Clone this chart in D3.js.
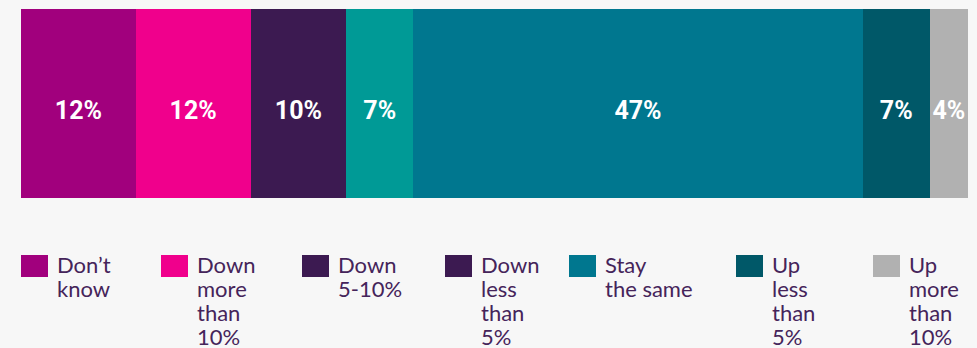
<!DOCTYPE html>
<html>
<head>
<meta charset="utf-8">
<script src="https://cdn.jsdelivr.net/npm/d3@7/dist/d3.min.js"></script>
<style>
  html, body { margin: 0; padding: 0; background: #f7f7f7; }
  svg { display: block; }
</style>
</head>
<body>
<svg id="chart" width="977" height="348"></svg>
<script>
// Expected change, share of respondents (%)
const categories = ["Don\u2019t know", "Down more than 10%", "Down 5-10%", "Down less than 5%", "Stay the same", "Up less than 5%", "Up more than 10%"];
const values = [12, 12, 10, 7, 47, 7, 4];
const valueLabels = ["12%", "12%", "10%", "7%", "47%", "7%", "4%"];
const legendLines = [
  ["Don\u2019t", "know"],
  ["Down", "more", "than", "10%"],
  ["Down", "5-10%"],
  ["Down", "less", "than", "5%"],
  ["Stay", "the same"],
  ["Up", "less", "than", "5%"],
  ["Up", "more", "than", "10%"]
];

// Styling
const barColors = ["#a1007d", "#f0008c", "#3c1a51", "#009a96", "#00778f", "#005868", "#b1b1b1"];
const legendColors = ["#a1007d", "#f0008c", "#3c1a51", "#3c1a51", "#00778f", "#005868", "#b1b1b1"];
const legendX = [21, 161, 302, 445, 569, 736, 873];

const svg = d3.select("#chart");
const bar = { left: 21, right: 968, top: 9, bottom: 198 };

const total = d3.sum(values);
const x = d3.scaleLinear().domain([0, total]).range([bar.left, bar.right]);
const starts = d3.cumsum([0, ...values]).slice(0, values.length);

const rows = values.map((v, i) => ({ v, start: starts[i], label: valueLabels[i], color: barColors[i] }));

const seg = svg.append("g").selectAll("g").data(rows).join("g");

seg.append("rect")
  .attr("x", d => x(d.start))
  .attr("y", bar.top)
  .attr("width", d => x(d.start + d.v) - x(d.start))
  .attr("height", bar.bottom - bar.top)
  .attr("fill", d => d.color)
  .attr("shape-rendering", "crispEdges");

seg.append("text")
  .attr("x", d => (x(d.start) + x(d.start + d.v)) / 2)
  .attr("y", 119)
  .attr("text-anchor", "middle")
  .attr("fill", "#ffffff")
  .attr("font-family", "Roboto, 'Noto Sans', sans-serif")
  .attr("font-weight", 700)
  .attr("font-size", 25)
  .text(d => d.label);

// Legend
const legend = svg.append("g").selectAll("g")
  .data(categories.map((c, i) => ({ c, lines: legendLines[i], color: legendColors[i], x: legendX[i] })))
  .join("g")
  .attr("transform", d => `translate(${d.x},255)`);

legend.append("rect")
  .attr("width", 27)
  .attr("height", 22)
  .attr("fill", d => d.color);

legend.append("text")
  .attr("fill", "#45245a")
  .attr("font-family", "Lato, 'Noto Sans', sans-serif")
  .attr("font-weight", 400)
  .attr("font-size", 22)
  .selectAll("tspan")
  .data(d => d.lines)
  .join("tspan")
  .attr("x", 36)
  .attr("y", (d, i) => 18 + i * 24)
  .text(d => d);
</script>
</body>
</html>
